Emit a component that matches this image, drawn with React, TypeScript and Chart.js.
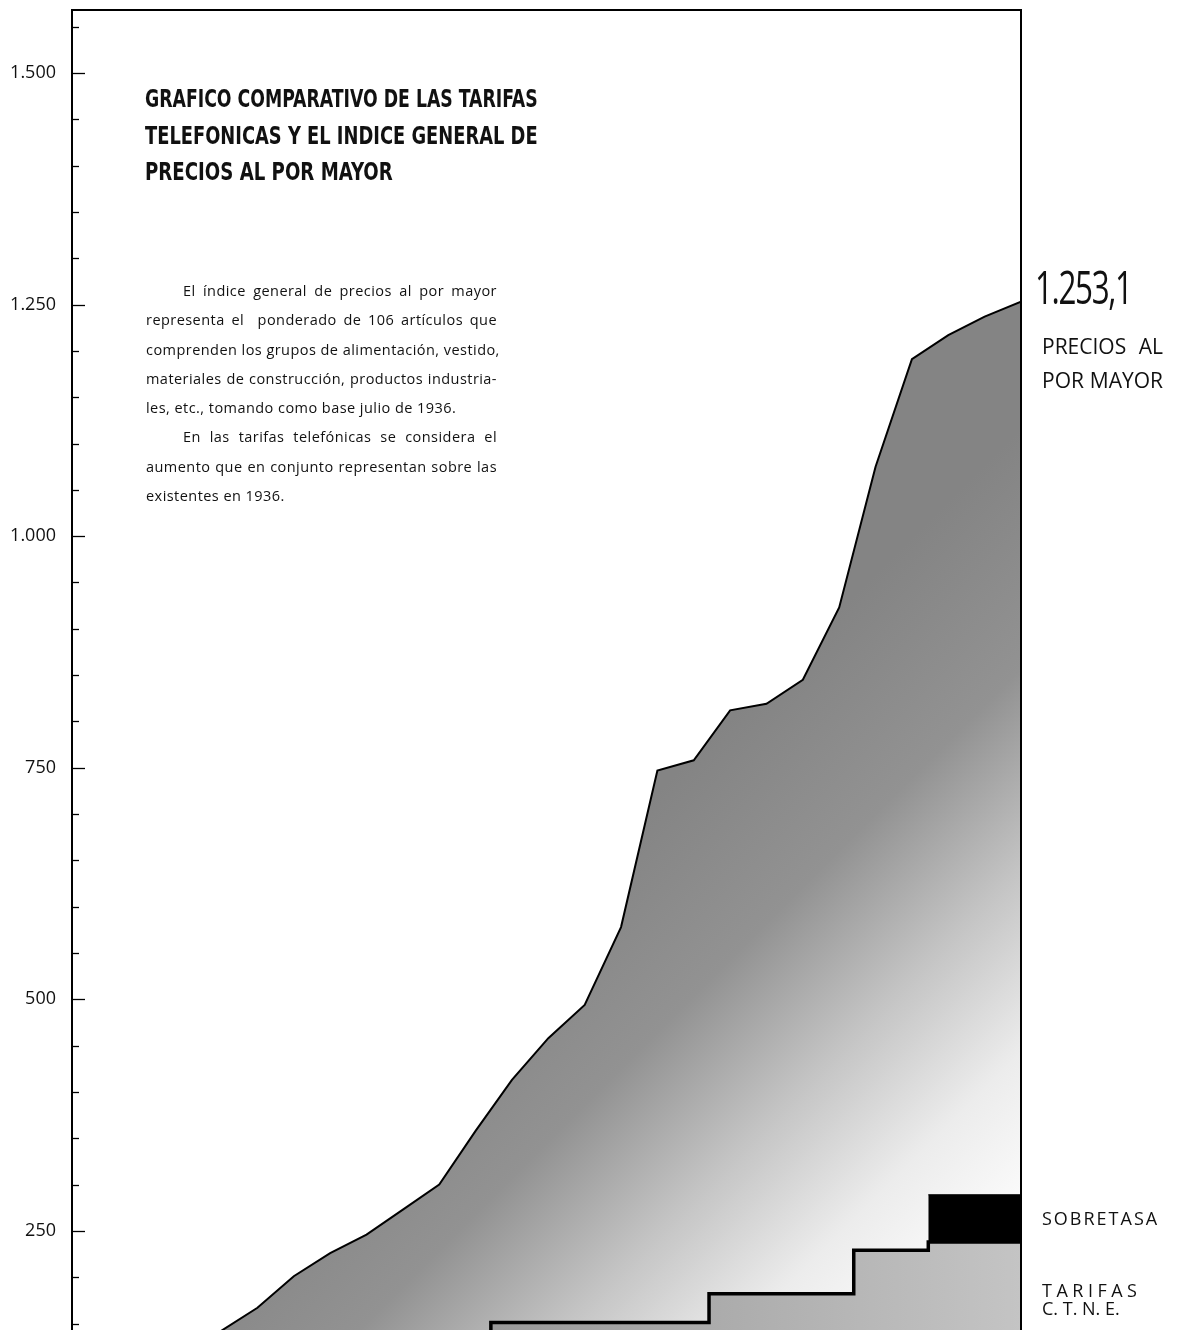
import React, { useEffect, useRef } from "react";
import { Chart, registerables } from "chart.js";

Chart.register(...registerables);

// ---- data ----
const priceYears = [1940, 1941, 1942, 1943, 1944, 1945, 1946, 1947, 1948, 1949, 1950, 1951, 1952, 1953, 1954, 1955, 1956, 1957, 1958, 1959, 1960, 1961, 1962];
const priceValues = [142, 167, 201, 226, 246, 273, 300, 358, 413, 458, 494, 578, 747, 758, 812, 819, 845, 923, 1075, 1191, 1217, 1237, 1253.1];

const tarifaDates = [1936, 1947.42, 1953.42, 1957.4, 1959.45, 1962];
const tarifaValues = [100, 151, 182, 229, 238, 238];

const sobretasaDates = [1959.45, 1962];
const sobretasaValues = [289, 289];

const yMin = 143;
const yMax = 1568;
const yMinorStep = 50;
const yMajorStep = 250;
const xMin = 1935.9;
const xMax = 1962;

const titleLines = [
  "GRAFICO COMPARATIVO DE LAS TARIFAS",
  "TELEFONICAS Y EL INDICE GENERAL DE",
  "PRECIOS AL POR MAYOR",
];

const noteLines: { text: string; indent: boolean; last: boolean }[] = [
  { text: "El índice general de precios al por mayor", indent: true, last: false },
  { text: "representa el  ponderado de 106 artículos que", indent: false, last: false },
  { text: "comprenden los grupos de alimentación, vestido,", indent: false, last: false },
  { text: "materiales de construcción, productos industria-", indent: false, last: false },
  { text: "les, etc., tomando como base julio de 1936.", indent: false, last: true },
  { text: "En las tarifas telefónicas se considera el", indent: true, last: false },
  { text: "aumento que en conjunto representan sobre las", indent: false, last: false },
  { text: "existentes en 1936.", indent: false, last: true },
];

const fmtThousands = (v: number) => {
  const s = Math.round(v).toString();
  return s.replace(/\B(?=(\d{3})+(?!\d))/g, ".");
};
const fmtDecimal = (v: number) => {
  const i = Math.floor(v);
  const d = Math.round((v - i) * 10);
  return fmtThousands(i) + "," + d;
};

const W = 1177;
const H = 1330;
const SANS = '"Open Sans", "DejaVu Sans", sans-serif';

const framePlugin = {
  id: "frameAndTicks",
  afterDatasetsDraw(chart: any) {
    const { ctx, chartArea } = chart;
    const { left, right, top, bottom } = chartArea;
    ctx.save();
    ctx.strokeStyle = "#000";
    ctx.lineWidth = 2;
    ctx.beginPath();
    ctx.moveTo(left - 1, top);
    ctx.lineTo(right, top);
    ctx.lineTo(right, bottom);
    ctx.stroke();
    const ys = chart.scales.y;
    ctx.lineWidth = 1.3;
    ys.ticks.forEach((t: any) => {
      if (t.value % yMinorStep !== 0) return;
      const py = Math.round(ys.getPixelForValue(t.value)) + 0.5;
      const len = t.value % yMajorStep === 0 ? 13 : 7;
      ctx.beginPath();
      ctx.moveTo(left, py);
      ctx.lineTo(left + len, py);
      ctx.stroke();
    });
    ctx.restore();
  },
};

function FitText(props: { width: number; style: React.CSSProperties; children: React.ReactNode }) {
  const ref = useRef<HTMLDivElement | null>(null);
  useEffect(() => {
    const el = ref.current;
    if (!el) return;
    el.style.transform = "none";
    const w = el.scrollWidth;
    if (w > 0) el.style.transform = `scaleX(${props.width / w})`;
  });
  return (
    <div
      ref={ref}
      style={{ ...props.style, display: "inline-block", whiteSpace: "nowrap", transformOrigin: "left top" }}
    >
      {props.children}
    </div>
  );
}

export default function App() {
  const canvasRef = useRef<HTMLCanvasElement | null>(null);

  useEffect(() => {
    const canvas = canvasRef.current;
    if (!canvas) return;

    const priceFill = (c: any) => {
      const chart = c.chart;
      const a = chart.chartArea;
      if (!a) return "#999";
      const w = a.right - a.left;
      const h = a.bottom - a.top;
      const g = chart.ctx.createLinearGradient(
        a.left + 0.556 * w,
        a.top + 0.636 * h,
        a.left + 0.977 * w,
        a.top + 0.939 * h
      );
      g.addColorStop(0, "#848484");
      g.addColorStop(0.3, "#929292");
      g.addColorStop(0.55, "#c4c4c4");
      g.addColorStop(0.78, "#ececec");
      g.addColorStop(1, "#fdfdfd");
      return g;
    };

    const tarifaFill = (c: any) => {
      const chart = c.chart;
      const a = chart.chartArea;
      if (!a) return "#aaa";
      const w = a.right - a.left;
      const g = chart.ctx.createLinearGradient(a.left + 0.45 * w, 0, a.right, 0);
      g.addColorStop(0, "#9a9a9a");
      g.addColorStop(1, "#c4c4c4");
      return g;
    };

    const chart = new Chart(canvas, {
      type: "line",
      data: {
        datasets: [
          {
            label: "Sobretasa",
            data: sobretasaDates.map((x, i) => ({ x, y: sobretasaValues[i] })),
            borderColor: "#000",
            backgroundColor: "#000",
            borderWidth: 1,
            pointRadius: 0,
            fill: { value: tarifaValues[tarifaValues.length - 1] },
          },
          {
            label: "Tarifas C.T.N.E.",
            data: tarifaDates.map((x, i) => ({ x, y: tarifaValues[i] })),
            stepped: true,
            borderColor: "#000",
            backgroundColor: tarifaFill,
            borderWidth: 3.5,
            pointRadius: 0,
            fill: "start",
          },
          {
            label: "Precios al por mayor",
            data: priceYears.map((x, i) => ({ x, y: priceValues[i] })),
            borderColor: "#000",
            backgroundColor: priceFill,
            borderWidth: 2,
            pointRadius: 0,
            tension: 0,
            fill: "start",
          },
        ],
      },
      options: {
        responsive: false,
        animation: false,
        devicePixelRatio: 1,
        layout: { padding: { top: 10, right: W - 1021, left: 0, bottom: 0 } },
        plugins: {
          legend: { display: false },
          tooltip: { enabled: false },
        },
        scales: {
          x: { type: "linear", min: xMin, max: xMax, display: false },
          y: {
            type: "linear",
            min: yMin,
            max: yMax,
            afterFit: (s: any) => {
              s.width = 72;
              s.paddingTop = 0;
              s.paddingBottom = 0;
            },
            border: { display: true, color: "#000", width: 2 },
            grid: { display: false, drawTicks: false },
            ticks: {
              stepSize: yMinorStep,
              includeBounds: false,
              autoSkip: false,
              padding: 16,
              color: "#111",
              font: { family: SANS, size: 18 },
              callback: (v: any) => (Number(v) % yMajorStep === 0 ? fmtThousands(Number(v)) : ""),
            },
          },
        },
      },
      plugins: [framePlugin],
    } as any);

    return () => chart.destroy();
  }, []);

  const lastPrice = priceValues[priceValues.length - 1];

  return (
    <div
      style={{
        position: "absolute",
        left: 0,
        top: 0,
        width: W,
        height: H,
        background: "#fff",
        overflow: "hidden",
      }}
    >
      <canvas ref={canvasRef} width={W} height={H} style={{ position: "absolute", left: 0, top: 0, width: W, height: H }} />

      {/* title */}
      <div style={{ position: "absolute", left: 145, top: 81 }}>
        {titleLines.map((l, i) => (
          <div key={i} style={{ height: 36.5 }}>
            <FitText
              width={i === 2 ? 248 : 393}
              style={{
                fontFamily: '"DejaVu Sans Condensed", "DejaVu Sans", sans-serif',
                fontStretch: "condensed",
                fontWeight: 700,
                fontSize: 25,
                lineHeight: "36.5px",
                color: "#111",
              }}
            >
              {l}
            </FitText>
          </div>
        ))}
      </div>

      {/* note */}
      <div
        style={{
          position: "absolute",
          left: 146,
          top: 276,
          width: 351,
          fontFamily: SANS,
          fontSize: 14.5,
          letterSpacing: "0.45px",
          lineHeight: "29.3px",
          color: "#111",
        }}
      >
        {noteLines.map((l, i) => (
          <div
            key={i}
            style={{
              whiteSpace: "pre",
              paddingLeft: l.indent ? 37 : 0,
              textAlign: l.last ? "left" : "justify",
              textAlignLast: l.last ? "left" : "justify",
            }}
          >
            {l.text}
          </div>
        ))}
      </div>

      {/* right labels */}
      <div style={{ position: "absolute", left: 1035, top: 263 }}>
        <FitText
          width={97}
          style={{
            fontFamily: SANS,
            fontSize: 46,
            lineHeight: "46px",
            letterSpacing: "-2px",
            color: "#111",
          }}
        >
          {fmtDecimal(lastPrice)}
        </FitText>
      </div>
      <div
        style={{
          position: "absolute",
          left: 1042,
          top: 329,
          width: 121,
          fontFamily: SANS,
          fontSize: 21,
          lineHeight: "34px",
          color: "#111",
        }}
      >
        <div style={{ textAlign: "justify", textAlignLast: "justify", whiteSpace: "nowrap" }}>PRECIOS AL</div>
        <div style={{ textAlign: "justify", textAlignLast: "justify", whiteSpace: "nowrap" }}>POR MAYOR</div>
      </div>
      <div
        style={{
          position: "absolute",
          left: 1042,
          top: 1209,
          fontFamily: SANS,
          fontSize: 18,
          lineHeight: "18px",
          letterSpacing: "2px",
          color: "#111",
          whiteSpace: "nowrap",
        }}
      >
        SOBRETASA
      </div>
      <div
        style={{
          position: "absolute",
          left: 1042,
          top: 1281,
          fontFamily: SANS,
          fontSize: 18,
          lineHeight: "18px",
          color: "#111",
          whiteSpace: "nowrap",
        }}
      >
        <div style={{ letterSpacing: "4.5px" }}>TARIFAS</div>
        <div style={{ letterSpacing: "0px" }}>C. T. N. E.</div>
      </div>
    </div>
  );
}
